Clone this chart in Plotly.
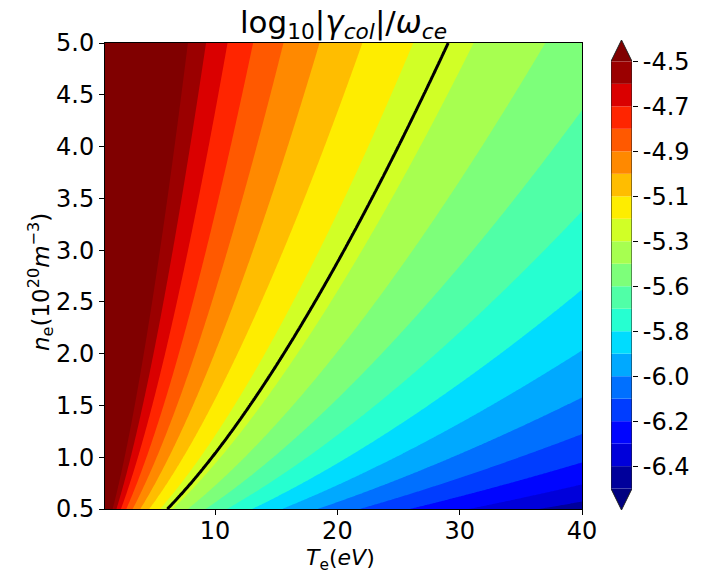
import numpy as np
import plotly.graph_objects as go

# ---- grid: electron temperature (eV) and density (1e20 m^-3) ----
te_eV = np.linspace(1.0, 40.0, 320)
ne_1e20 = np.linspace(0.5, 5.0, 240)

# ---- collision-rate model: log10(gamma_col / omega_ce) ----
RATE_OFFSET = -4.823      # log10 of the rate prefactor over omega_ce
TE_EXPONENT = -1.5        # Spitzer temperature scaling
LN_LAMBDA_BASE = 24.0     # Coulomb logarithm constant (NRL, ne in cm^-3)

# ---- contour levels ----
level_lo, level_hi, n_levels = -6.5, -4.5, 20
marked_level = -5.3

x_ticks = [10, 20, 30, 40]
y_ticks = [0.5, 1.0, 1.5, 2.0, 2.5, 3.0, 3.5, 4.0, 4.5, 5.0]

FONT = "DejaVu Sans"

TE, NE = np.meshgrid(te_eV, ne_1e20)
coulomb_log = LN_LAMBDA_BASE - np.log(np.sqrt(NE * 1e14) / TE)
z = RATE_OFFSET + np.log10(NE) + TE_EXPONENT * np.log10(TE) + np.log10(coulomb_log)

# ---- jet colormap (256-entry lookup, as in matplotlib) ----
JET = {
    "r": [(0.0, 0.0), (0.35, 0.0), (0.66, 1.0), (0.89, 1.0), (1.0, 0.5)],
    "g": [(0.0, 0.0), (0.125, 0.0), (0.375, 1.0), (0.64, 1.0), (0.91, 0.0), (1.0, 0.0)],
    "b": [(0.0, 0.5), (0.11, 1.0), (0.34, 1.0), (0.65, 0.0), (1.0, 0.0)],
}


def jet(v):
    idx = min(max(int(v * 256), 0), 255)
    t = idx / 255.0
    rgb = []
    for ch in "rgb":
        xs = [p[0] for p in JET[ch]]
        ys = [p[1] for p in JET[ch]]
        rgb.append(int(round(255 * float(np.interp(t, xs, ys)))))
    return "rgb(%d,%d,%d)" % tuple(rgb)


levels = np.linspace(level_lo, level_hi, n_levels)
step = levels[1] - levels[0]
n_bands = n_levels - 1
band_colors = [jet((i + 0.5) / n_bands) for i in range(n_bands)]
under_color = jet(0.0)
over_color = jet(1.0)

# plotly maps under / bands / over onto evenly spaced colorscale stops
fill_colors = [under_color] + band_colors + [over_color]
colorscale = [[j / (len(fill_colors) - 1), c] for j, c in enumerate(fill_colors)]

fig = go.Figure()

fig.add_trace(go.Contour(
    x=te_eV, y=ne_1e20, z=z,
    colorscale=colorscale, showscale=False,
    contours=dict(coloring="fill", showlines=False,
                  start=levels[0], end=levels[-1], size=step),
    line=dict(width=0), hoverinfo="skip",
))

fig.add_trace(go.Contour(
    x=te_eV, y=ne_1e20, z=z, showscale=False,
    contours=dict(coloring="none", showlines=True,
                  start=marked_level, end=marked_level, size=1),
    line=dict(color="black", width=3), hoverinfo="skip",
))

# ---- colour bar with extension triangles ----
ext = 0.05 * (level_hi - level_lo)
fig.add_trace(go.Bar(
    x=[0] * n_bands, y=[step] * n_bands, base=levels[:-1], width=1,
    marker=dict(color=band_colors, line=dict(width=0)),
    xaxis="x2", yaxis="y2", showlegend=False, hoverinfo="skip",
))
fig.add_trace(go.Scatter(
    x=[-0.5, 0.5, 0, -0.5], y=[level_hi, level_hi, level_hi + ext, level_hi],
    fill="toself", fillcolor=over_color, mode="lines", line=dict(width=0),
    xaxis="x2", yaxis="y2", showlegend=False, hoverinfo="skip",
))
fig.add_trace(go.Scatter(
    x=[-0.5, 0.5, 0, -0.5], y=[level_lo, level_lo, level_lo - ext, level_lo],
    fill="toself", fillcolor=under_color, mode="lines", line=dict(width=0),
    xaxis="x2", yaxis="y2", showlegend=False, hoverinfo="skip",
))
fig.add_trace(go.Scatter(
    x=[-0.5, 0, 0.5, 0.5, 0, -0.5, -0.5],
    y=[level_hi, level_hi + ext, level_hi, level_lo, level_lo - ext, level_lo, level_hi],
    mode="lines", line=dict(color="#222222", width=1),
    xaxis="x2", yaxis="y2", showlegend=False, hoverinfo="skip",
))

cbar_ticks = list(levels[::-2])
cbar_text = ["%.1f" % v for v in cbar_ticks]

tick_font = dict(family=FONT, size=24, color="black")
axis_common = dict(showgrid=False, zeroline=False, ticks="outside", ticklen=5,
                   tickwidth=1, tickcolor="black", tickfont=tick_font)

fig.update_layout(
    width=705, height=576,
    margin=dict(l=105, r=73, t=40, b=66),
    paper_bgcolor="white", plot_bgcolor="white",
    showlegend=False,
    title=dict(
        text="log<sub>10</sub>|<i>γ</i><sub><i>col</i></sub>|/<i>ω</i><sub><i>ce</i></sub>",
        font=dict(family=FONT, size=31, color="black"),
        x=343.5 / 705, xanchor="center", xref="container",
        y=1 - 22 / 576, yanchor="middle", yref="container",
    ),
    xaxis=dict(domain=[0, 477 / 527], range=[1, 40], tickvals=x_ticks,
               showline=True, linecolor="black", linewidth=1, mirror=True,
               ticklabelstandoff=-5, anchor="y", **axis_common),
    yaxis=dict(domain=[1 / 470, 467 / 470], range=[0.5, 5.0], tickvals=y_ticks,
               ticktext=["%.1f" % v for v in y_ticks],
               showline=True, linecolor="black", linewidth=1, mirror=True,
               anchor="x", **axis_common),
    xaxis2=dict(domain=[506 / 527, 1.0], range=[-0.5, 0.5], visible=False,
                anchor="y2", fixedrange=True),
    yaxis2=dict(domain=[0, 1], range=[level_lo - 0.1, level_hi + 0.1],
                anchor="x2", side="right", tickvals=cbar_ticks, ticktext=cbar_text,
                showline=False, **axis_common),
    annotations=[
        dict(text="<i>T</i><sub>e</sub>(<i>eV</i>)", xref="paper", yref="paper",
             x=(340 - 105) / 527, y=(510 - 575) / 470, xanchor="center",
             yanchor="bottom", showarrow=False, borderpad=0,
             font=dict(family=FONT, size=22, color="black")),
        dict(text="<i>n</i><sub>e</sub>(10<sup>20</sup><i>m</i><sup>−3</sup>)",
             xref="paper", yref="paper", textangle=-90,
             x=(40 - 105) / 527, y=(510 - 282) / 470, xanchor="center",
             yanchor="middle", showarrow=False, borderpad=0,
             font=dict(family=FONT, size=23, color="black")),
    ],
)

fig.write_html("out.html")
